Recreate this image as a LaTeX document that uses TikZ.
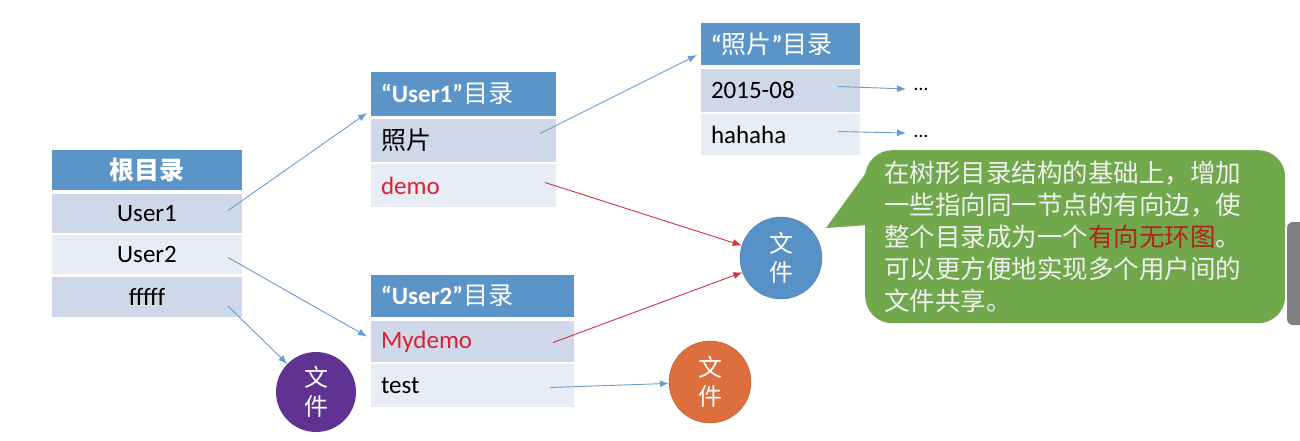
\documentclass[tikz,border=0pt]{standalone}
\usepackage{fontspec}
\setmainfont{Carlito}
\newfontfamily\cjk{Noto Sans CJK SC}
\usetikzlibrary{arrows.meta,calc}
\definecolor{hdr}{RGB}{91,148,200}
\definecolor{rowd}{RGB}{206,216,233}
\definecolor{rowl}{RGB}{231,236,245}
\definecolor{ablue}{RGB}{104,157,210}
\definecolor{ared}{RGB}{214,48,68}
\definecolor{tred}{RGB}{220,32,52}
\definecolor{cblue}{RGB}{88,145,199}
\definecolor{cpurple}{RGB}{96,50,145}
\definecolor{corange}{RGB}{221,110,62}
\definecolor{bgreen}{RGB}{112,168,75}
\definecolor{bred}{RGB}{180,36,30}
\definecolor{sgray}{RGB}{128,128,128}
\begin{document}
\begin{tikzpicture}[x=1pt,y=-1pt,
  tbl/.style={anchor=north west, inner sep=0pt, outer sep=0pt, font=\fontsize{25}{30}\selectfont},
  hd/.style={tbl, fill=hdr, text=white, font=\fontsize{25}{30}\selectfont\bfseries},
  rd/.style={tbl, fill=rowd},
  rl/.style={tbl, fill=rowl},
  lft/.style={align=left, inner xsep=10pt},
  arr/.style={draw=ablue, line width=0.9pt, -{Latex[length=9pt,width=7pt]}},
  rarr/.style={draw=ared, line width=0.9pt, -{Latex[length=9pt,width=7pt]}},
  filec/.style={circle, minimum size=82pt, inner sep=0pt, text=white, align=center,
     font=\fontsize{24}{29}\selectfont\cjk},
  dots/.style={inner sep=0pt, font=\fontsize{20}{24}\selectfont}
]
\useasboundingbox (0,0) rectangle (1300,440);
\fill[white] (0,0) rectangle (1300,440);

% root table
\node[hd, minimum width=190, minimum height=40] (h0) at (52,150) {\cjk 根目录};
\node[rd, minimum width=190, minimum height=39] (r1) at (52,194) {User1};
\node[rl, minimum width=190, minimum height=39] (r2) at (52,235) {User2};
\node[rd, minimum width=190, minimum height=40] (r3) at (52,277) {fffff};

% User1 table
\node[hd, lft, text width=165pt, minimum height=44] (h1) at (371,72) {“User1”{\cjk\mdseries 目录}};
\node[rd, lft, text width=165pt, minimum height=43] (p1) at (371,119) {\cjk 照片};
\node[rl, lft, text width=165pt, minimum height=43, text=tred] (d1) at (371,164) {demo};

% User2 table
\node[hd, lft, text width=183pt, minimum height=42] (h2) at (371,275) {“User2”{\cjk\mdseries 目录}};
\node[rd, lft, text width=183pt, minimum height=41, text=tred] (m2) at (371,321) {Mydemo};
\node[rl, lft, text width=183pt, minimum height=43] (t2) at (371,364) {test};

% photo table
\node[hd, lft, text width=139pt, minimum height=42] (h3) at (701,23) {“{\cjk\mdseries 照片}”{\cjk\mdseries 目录}};
\node[rd, lft, text width=139pt, minimum height=43] (q1) at (701,69) {2015-08};
\node[rl, lft, text width=139pt, minimum height=41] (q2) at (701,114) {hahaha};

\node[dots, anchor=west] (e1) at (914,89) {…};
\node[dots, anchor=west] (e2) at (914,136) {…};

% file circles
\node[filec, fill=cblue, draw=cblue!85!black, line width=0.4pt] (fb) at (781,258) {文\\件};
\node[filec, fill=cpurple, minimum size=80pt] (fp) at (316,392) {文\\件};
\node[filec, fill=corange, draw=corange!80!black, line width=0.4pt] (fo) at (710,382) {文\\件};

% speech bubble
\node[anchor=north west, fill=bgreen, rounded corners=27pt, minimum width=420pt, minimum height=173pt,
  text width=382pt, inner xsep=19pt, align=left, text=white!94!black,
  font=\fontsize{25.5}{32}\selectfont\cjk] (bub) at (865,150)
  {在树形目录结构的基础上，增加\\一些指向同一节点的有向边，使\\整个目录成为一个{\color{bred}有向无环图}。\\可以更方便地实现多个用户间的\\文件共享。};
\fill[bgreen] ([xshift=-39pt,yshift=-78pt]bub.north west) -- ([xshift=3pt,yshift=-20pt]bub.north west)
   -- ([xshift=3pt,yshift=-75pt]bub.north west) -- cycle;

% scrollbar
\fill[sgray, rounded corners=6pt] (1287,222) rectangle (1310,325);

% connectors
\draw[arr] ([xshift=-14pt,yshift=3pt]r1.east) -- ([xshift=-4pt,yshift=3pt]h1.south west);
\draw[arr] ([xshift=-14pt,yshift=-3pt]r2.east) -- ([xshift=-4pt,yshift=5pt]m2.west);
\draw[arr] ([xshift=-14pt,yshift=-9pt]r3.east) -- (fp);
\draw[arr] ([xshift=-16pt,yshift=7pt]p1.east) -- ([xshift=-4pt,yshift=-11pt]h3.west);
\draw[rarr] ([xshift=-11pt,yshift=3pt]d1.east) -- (fb);
\draw[rarr] ([xshift=-21pt,yshift=-1pt]m2.east) -- (fb);
\draw[arr] ([xshift=-24pt,yshift=-2pt]t2.east) -- (fo);
\draw[arr] ([xshift=-22pt,yshift=4pt]q1.east) -- ([xshift=-8pt]e1.west);
\draw[arr] ([xshift=-22pt,yshift=3pt]q2.east) -- ([xshift=-8pt,yshift=3pt]e2.west);
\end{tikzpicture}
\end{document}
